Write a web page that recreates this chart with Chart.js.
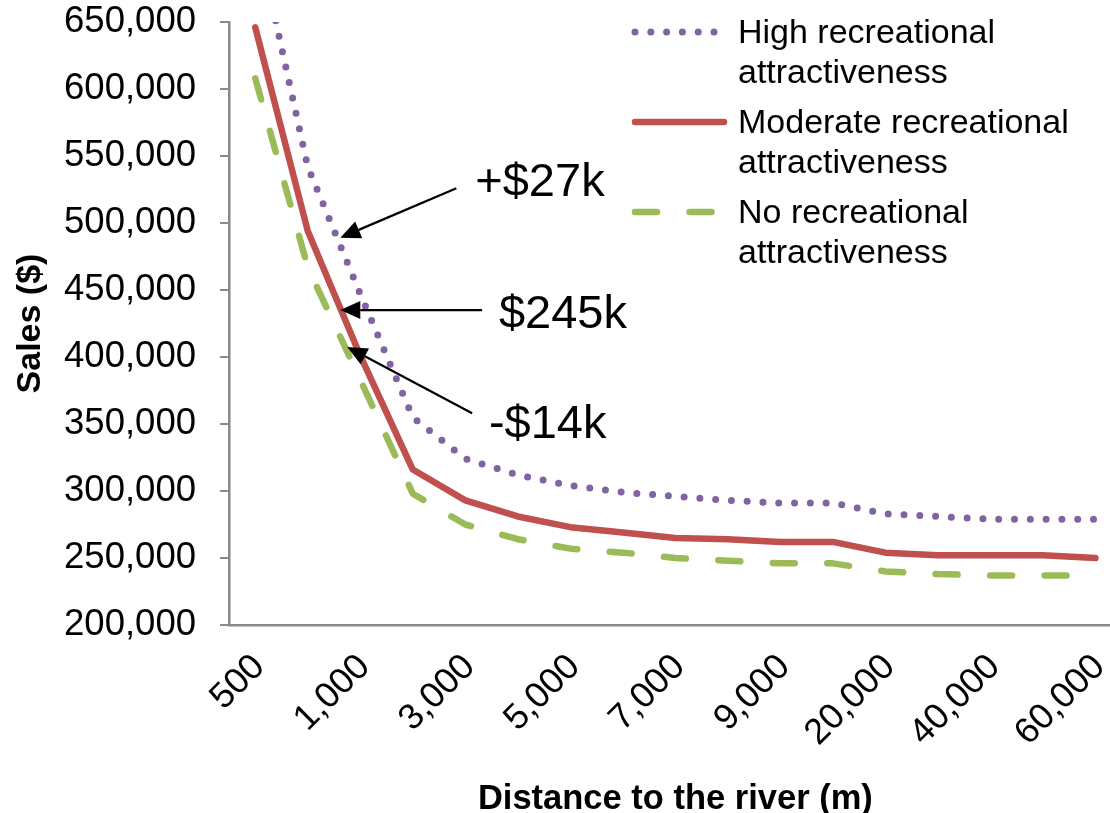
<!DOCTYPE html>
<html>
<head>
<meta charset="utf-8">
<script src="https://cdn.jsdelivr.net/npm/chart.js@4.4.1/dist/chart.umd.min.js"></script>
<style>
  html, body { margin: 0; padding: 0; background: #fff; overflow: hidden; }
  /* plot runs past the right edge of the window, like the original */
  #wrap { width: 1147px; height: 813px; }
</style>
</head>
<body>
<div id="wrap"><canvas id="chart"></canvas></div>
<script>
// distance to the river (m); only every other label is shown on the axis
const distances = ['500', '750', '1,000', '2,000', '3,000', '4,000', '5,000', '6,000', '7,000',
                   '8,000', '9,000', '10,000', '20,000', '30,000', '40,000', '50,000', '60,000'];

const seriesNames = ['High recreational attractiveness',
                     'Moderate recreational attractiveness',
                     'No recreational attractiveness'];

// sales ($)
const highRec     = [720000, 542000, 447000, 355000, 324000, 312000, 304000, 299000, 296000,
                     293000, 291000, 291000, 283000, 281000, 279000, 279000, 279000];
const moderateRec = [646000, 494000, 401000, 316000, 293000, 281000, 273000, 269000, 265000,
                     264000, 262000, 262000, 254000, 252000, 252000, 252000, 250000];
const noRec       = [608000, 467000, 383000, 298000, 275000, 264000, 257000, 254000, 250000,
                     248000, 246000, 246000, 240000, 238000, 237000, 237000, 237000];

const yMin = 200000, yMax = 650000, yStep = 50000;

// arrows: tip and tail in (category index, sales), text anchored the same way
const callouts = [
  { text: '+$27k', tip: [1.62, 489000], tail: [3.83, 526000], at: [4.19, 530000] },
  { text: '$245k', tip: [1.62, 435000], tail: [4.32, 435000], at: [4.64, 431000] },
  { text: '-$14k', tip: [1.75, 407500], tail: [4.13, 358000], at: [4.45, 349000] }
];

const FONT = "'Liberation Sans', Arial, Helvetica, sans-serif";
const AXIS_GREY = '#8a8a8a';

Chart.defaults.font.family = FONT;
Chart.defaults.color = '#000';

const legendBox = {
  id: 'legendBox',
  afterDraw(chart, args, opts) {
    const ctx = chart.ctx;
    ctx.save();
    ctx.font = opts.fontSize + 'px ' + FONT;
    ctx.textBaseline = 'middle';
    chart.data.datasets.forEach((ds, i) => {
      const y = opts.top + i * opts.rowGap;
      ctx.beginPath();
      ctx.strokeStyle = ds.borderColor;
      ctx.lineWidth = ds.borderWidth;
      ctx.lineCap = ds.borderCapStyle;
      ctx.setLineDash(ds.borderDash || []);
      ctx.moveTo(opts.left, y);
      ctx.lineTo(opts.left + opts.sample[i], y);
      ctx.stroke();
      ctx.setLineDash([]);

      const words = ds.label.split(' ');
      const lines = [words.slice(0, -1).join(' '), words[words.length - 1]];
      ctx.fillStyle = '#000';
      lines.forEach((ln, k) => ctx.fillText(ln, opts.textX, y + 2 + k * opts.lineGap));
    });
    ctx.restore();
  }
};

const arrows = {
  id: 'arrows',
  afterDatasetsDraw(chart, args, opts) {
    const { ctx, scales: { x, y } } = chart;
    const px = p => [x.getPixelForValue(p[0]), y.getPixelForValue(p[1])];
    ctx.save();
    ctx.strokeStyle = '#000';
    ctx.fillStyle = '#000';
    ctx.lineWidth = 2.2;
    callouts.forEach(c => {
      const [tx, ty] = px(c.tip);
      const [sx, sy] = px(c.tail);
      const ang = Math.atan2(ty - sy, tx - sx);
      const head = 20, half = 9;
      const bx = tx - head * Math.cos(ang), by = ty - head * Math.sin(ang);
      ctx.beginPath();
      ctx.moveTo(sx, sy);
      ctx.lineTo(bx, by);
      ctx.stroke();
      ctx.beginPath();
      ctx.moveTo(tx, ty);
      ctx.lineTo(bx + half * Math.sin(ang), by - half * Math.cos(ang));
      ctx.lineTo(bx - half * Math.sin(ang), by + half * Math.cos(ang));
      ctx.closePath();
      ctx.fill();

      const [lx, ly] = px(c.at);
      ctx.font = opts.fontSize + 'px ' + FONT;
      ctx.textBaseline = 'middle';
      ctx.fillText(c.text, lx, ly);
    });
    ctx.restore();
  }
};

new Chart(document.getElementById('chart'), {
  type: 'line',
  data: {
    labels: distances,
    datasets: [
      {
        label: seriesNames[0],
        data: highRec,
        borderColor: '#8064A2',
        borderWidth: 7,
        borderDash: [0, 15.8],
        borderCapStyle: 'round',
        borderJoinStyle: 'round'
      },
      {
        label: seriesNames[1],
        data: moderateRec,
        borderColor: '#C0504D',
        borderWidth: 6.5,
        borderCapStyle: 'round',
        borderJoinStyle: 'round'
      },
      {
        label: seriesNames[2],
        data: noRec,
        borderColor: '#9BBB59',
        borderWidth: 6.5,
        borderDash: [22, 32.5],
        borderCapStyle: 'round',
        borderJoinStyle: 'round'
      }
    ]
  },
  options: {
    responsive: true,
    maintainAspectRatio: false,
    animation: false,
    layout: { padding: 0 },
    elements: { point: { radius: 0, hoverRadius: 0 }, line: { tension: 0 } },
    plugins: {
      legend: { display: false },
      tooltip: { enabled: false },
      legendBox: { left: 635, top: 32, rowGap: 90, lineGap: 40, textX: 738, fontSize: 34, sample: [85, 89, 80] },
      arrows: { fontSize: 47 }
    },
    scales: {
      x: {
        offset: true,
        grid: { display: false, drawTicks: false },
        border: { display: true, color: AXIS_GREY, width: 2.5 },
        ticks: {
          autoSkip: false,
          minRotation: 45,
          maxRotation: 45,
          padding: 21,
          labelOffset: 4,
          font: { size: 36 },
          callback(value, index) {
            return index % 2 === 0 ? this.getLabelForValue(value) : null;
          }
        },
        title: {
          display: true,
          text: 'Distance to the river (m)',
          font: { size: 34.5, weight: 'bold', lineHeight: 0.8 },
          padding: { top: 0, bottom: 0 }
        },
        afterFit(scale) { scale.height = 188; }
      },
      y: {
        min: yMin,
        max: yMax,
        grid: { display: true, drawOnChartArea: false, drawTicks: true, tickLength: 9, color: AXIS_GREY, lineWidth: 2 },
        border: { display: true, color: AXIS_GREY, width: 2.5 },
        ticks: {
          stepSize: yStep,
          padding: 24,
          font: { size: 36.5 },
          callback: v => v.toLocaleString('en-US')
        },
        title: {
          display: true,
          text: 'Sales ($)',
          font: { size: 34, weight: 'bold', lineHeight: 1 },
          padding: { top: 14, bottom: 0 }
        },
        afterFit(scale) {
          scale.width = 229;
          scale.paddingTop = 22;
          scale.paddingBottom = 0;
        }
      }
    }
  },
  plugins: [legendBox, arrows]
});
</script>
</body>
</html>
